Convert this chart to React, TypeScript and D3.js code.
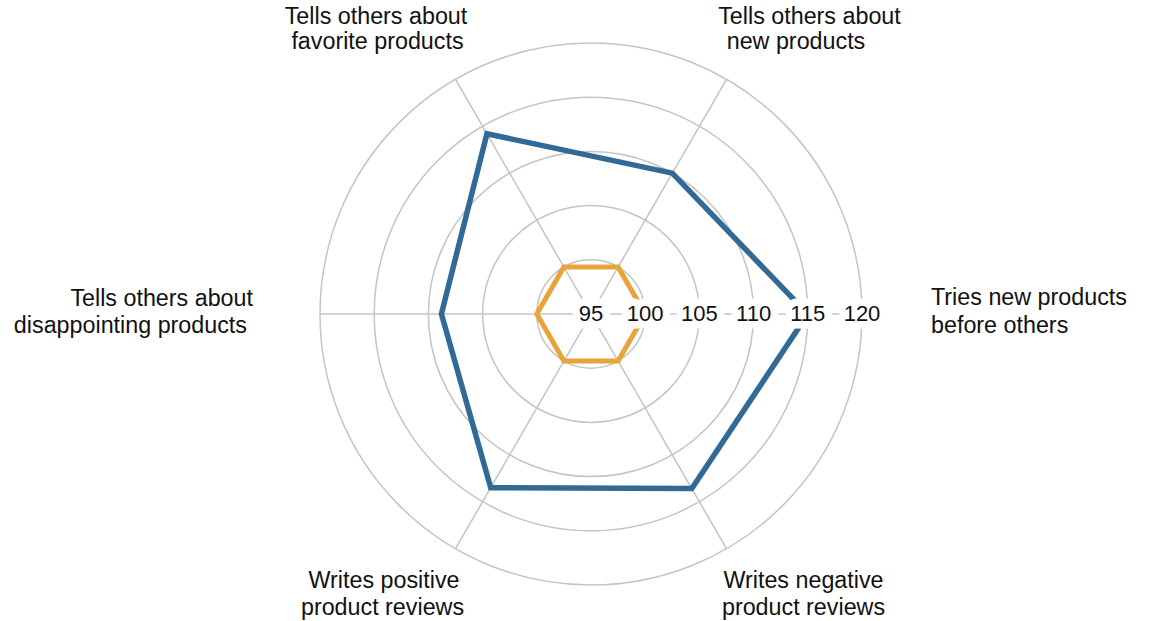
import React from "react";
import * as d3 from "d3";

// Axis categories, counter-clockwise starting from the right (3 o'clock)
const categories: string[][] = [
  ["Tries new products", "before others"],
  ["Tells others about", "new products"],
  ["Tells others about", "favorite products"],
  ["Tells others about", "disappointing products"],
  ["Writes positive", "product reviews"],
  ["Writes negative", "product reviews"],
];

// Index values per category
const segmentValues: number[] = [115, 110, 114.2, 108.8, 113.5, 113.6];
const averageValues: number[] = [100, 100, 100, 100, 100, 100];

const radialTicks: number[] = [95, 100, 105, 110, 115, 120];

const WIDTH = 1150;
const HEIGHT = 621;
const CX = 591;
const CY = 314;
const OUTER_R = 271;

const GRID = "#c4c4c4";
const BLUE = "#326a97";
const ORANGE = "#e8a33b";
const FONT = "'Liberation Sans', Arial, Helvetica, sans-serif";

// Per-label text placement relative to the end of its spoke
type LabelLayout = { anchor: "start" | "middle" | "end"; lines: { dx: number; dy: number }[] };
const labelLayout: LabelLayout[] = [
  { anchor: "start", lines: [{ dx: 69, dy: -9 }, { dx: 69, dy: 19 }] },
  { anchor: "middle", lines: [{ dx: 83, dy: -55.3 }, { dx: 69.5, dy: -30.8 }] },
  { anchor: "middle", lines: [{ dx: -79.5, dy: -55.3 }, { dx: -78, dy: -30.8 }] },
  { anchor: "end", lines: [{ dx: -67, dy: -8 }, { dx: -73, dy: 19 }] },
  { anchor: "middle", lines: [{ dx: -71.5, dy: 39.3 }, { dx: -73, dy: 66.3 }] },
  { anchor: "middle", lines: [{ dx: 77, dy: 39.3 }, { dx: 77, dy: 66.3 }] },
];

export default function App() {
  const r = d3
    .scaleLinear()
    .domain([radialTicks[0], radialTicks[radialTicks.length - 1]])
    .range([0, OUTER_R]);

  const n = categories.length;
  // math angle (counter-clockwise from east)
  const theta = (i: number) => (i * 2 * Math.PI) / n;
  // d3 radial angle (clockwise from north)
  const radialAngle = (i: number) => Math.PI / 2 - theta(i);

  const line = d3
    .lineRadial<number>()
    .angle((_, i) => radialAngle(i))
    .radius((d) => r(d))
    .curve(d3.curveLinearClosed);

  const spokeEnd = (i: number) => [
    CX + OUTER_R * Math.cos(theta(i)),
    CY - OUTER_R * Math.sin(theta(i)),
  ];

  return (
    <svg
      width={WIDTH}
      height={HEIGHT}
      style={{ position: "absolute", left: 0, top: 0, display: "block", background: "#fff" }}
      fontFamily={FONT}
    >
      {/* grid rings */}
      <g fill="none" stroke={GRID} strokeWidth={1.5}>
        {radialTicks.slice(1).map((t) => (
          <circle key={t} cx={CX} cy={CY} r={r(t)} />
        ))}
        {categories.map((_, i) => {
          const [x, y] = spokeEnd(i);
          return <line key={i} x1={CX} y1={CY} x2={x} y2={y} />;
        })}
      </g>

      {/* series */}
      <g transform={`translate(${CX},${CY})`} fill="none" strokeLinejoin="miter">
        <path d={line(averageValues) ?? ""} stroke={ORANGE} strokeWidth={5} />
        <path d={line(segmentValues) ?? ""} stroke={BLUE} strokeWidth={5.5} />
      </g>

      {/* radial tick labels with white halo */}
      <g
        fontSize={22}
        textAnchor="middle"
        fill="#111"
        stroke="#fff"
        strokeWidth={15}
        strokeLinejoin="round"
        style={{ paintOrder: "stroke" }}
      >
        {radialTicks.map((t) => (
          <text key={t} x={CX + r(t)} y={CY + 7}>
            {t}
          </text>
        ))}
      </g>

      {/* category labels */}
      <g fontSize={23.3} fill="#111">
        {categories.map((lines, i) => {
          const [x, y] = spokeEnd(i);
          const lay = labelLayout[i];
          return (
            <text key={i} textAnchor={lay.anchor}>
              {lines.map((s, j) => (
                <tspan key={j} x={x + lay.lines[j].dx} y={y + lay.lines[j].dy}>
                  {s}
                </tspan>
              ))}
            </text>
          );
        })}
      </g>
    </svg>
  );
}
